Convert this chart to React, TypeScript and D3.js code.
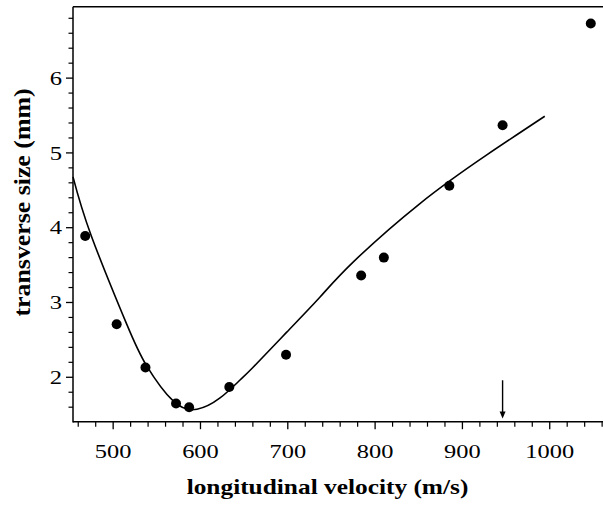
import React from "react";
import * as d3 from "d3";

// Measured data points (longitudinal velocity m/s, transverse size mm)
const pointVelocity = [468, 504, 537, 572, 587, 633, 698, 784, 810, 885, 946, 1047];
const pointSize = [3.89, 2.71, 2.13, 1.65, 1.6, 1.87, 2.3, 3.36, 3.6, 4.56, 5.37, 6.73];

// Fitted curve
const curveVelocity = [454, 475, 515.5, 538, 569, 596, 622, 645, 660, 698.5, 736.7, 774.8, 851, 927.5, 994.3];
const curveSize = [4.68, 3.89, 2.71, 2.16, 1.68, 1.572, 1.72, 1.96, 2.13, 2.6, 3.07, 3.54, 4.32, 4.97, 5.49];

// Axis ticks
const xMajorTicks = [500, 600, 700, 800, 900, 1000];
const yMajorTicks = [2, 3, 4, 5, 6];

// Arrow marker
const arrowVelocity = 946;
const arrowFrom = 1.96;
const arrowTo = 1.45;

const xTitle = "longitudinal velocity (m/s)";
const yTitle = "transverse size (mm)";

export default function App() {
  const W = 603;
  const H = 507;
  const left = 73;
  const right = 603;
  const top = 6.7;
  const bottom = 421.7;

  const x = d3.scaleLinear().domain([454, 1061]).range([left, right]);
  const y = d3.scaleLinear().domain([1.406, 6.955]).range([bottom, top]);

  const xMinor = d3.range(460, 1061, 20).filter((v) => !xMajorTicks.includes(v));
  const yMinor = d3.range(16, 70, 2).map((v) => v / 10).filter((v) => !yMajorTicks.includes(v));

  const line = d3
    .line<number>()
    .x((_, i) => x(curveVelocity[i]))
    .y((d) => y(d))
    .curve(d3.curveNatural);

  const font = '"Liberation Serif", "Times New Roman", Times, serif';
  const ax = x(arrowVelocity);

  return (
    <svg
      width={W}
      height={H}
      style={{ position: "absolute", left: 0, top: 0, fontFamily: font }}
    >
      <rect width={W} height={H} fill="#fff" />
      {/* frame */}
      <line x1={left} x2={right} y1={top} y2={top} stroke="#000" strokeWidth={1.5} />
      <line x1={left} x2={right} y1={bottom} y2={bottom} stroke="#000" strokeWidth={1.5} />
      <line x1={left} x2={left} y1={top} y2={bottom + 0.75} stroke="#000" strokeWidth={1.5} />

      {/* x ticks */}
      {xMajorTicks.map((v) => (
        <g key={"xm" + v}>
          <line x1={x(v)} x2={x(v)} y1={bottom} y2={bottom + 7.5} stroke="#000" strokeWidth={1.3} />
          <text
            x={x(v)}
            y={457.7}
            textAnchor="middle"
            style={{ fontFamily: font, fontSize: 19 }}
            textLength={String(v).length * 12.2}
            lengthAdjust="spacingAndGlyphs"
          >
            {v}
          </text>
        </g>
      ))}
      {xMinor.map((v) => (
        <line key={"xn" + v} x1={x(v)} x2={x(v)} y1={bottom} y2={bottom + 5} stroke="#000" strokeWidth={1.2} />
      ))}

      {/* y ticks */}
      {yMajorTicks.map((v) => (
        <g key={"ym" + v}>
          <line x1={left - 7} x2={left} y1={y(v)} y2={y(v)} stroke="#000" strokeWidth={1.3} />
          <text
            x={62}
            y={y(v) + 6.6}
            textAnchor="end"
            style={{ fontFamily: font, fontSize: 19 }}
            textLength={12.3}
            lengthAdjust="spacingAndGlyphs"
          >
            {v}
          </text>
        </g>
      ))}
      {yMinor.map((v) => (
        <line key={"yn" + v} x1={left - 4.5} x2={left} y1={y(v)} y2={y(v)} stroke="#000" strokeWidth={1.2} />
      ))}

      {/* fit curve */}
      <path d={line(curveSize) || ""} fill="none" stroke="#000" strokeWidth={1.6} />

      {/* data points */}
      {pointVelocity.map((v, i) => (
        <circle key={"p" + i} cx={x(v)} cy={y(pointSize[i])} r={5} fill="#000" />
      ))}

      {/* arrow */}
      <line x1={ax} x2={ax} y1={y(arrowFrom)} y2={y(arrowTo) - 5} stroke="#000" strokeWidth={1.4} />
      <path
        d={`M${ax - 3},${y(arrowTo) - 7} L${ax + 3},${y(arrowTo) - 7} L${ax},${y(arrowTo)} Z`}
        fill="#000"
      />

      {/* axis titles */}
      <text
        x={327.5}
        y={494}
        textAnchor="middle"
        style={{ fontFamily: font, fontSize: 22, fontWeight: "bold" }}
        textLength={281.7}
        lengthAdjust="spacingAndGlyphs"
      >
        {xTitle}
      </text>
      <text
        transform={`translate(29.5,202.5) rotate(-90)`}
        textAnchor="middle"
        style={{ fontFamily: font, fontSize: 24, fontWeight: "bold" }}
        textLength={228}
        lengthAdjust="spacingAndGlyphs"
      >
        {yTitle}
      </text>
    </svg>
  );
}
